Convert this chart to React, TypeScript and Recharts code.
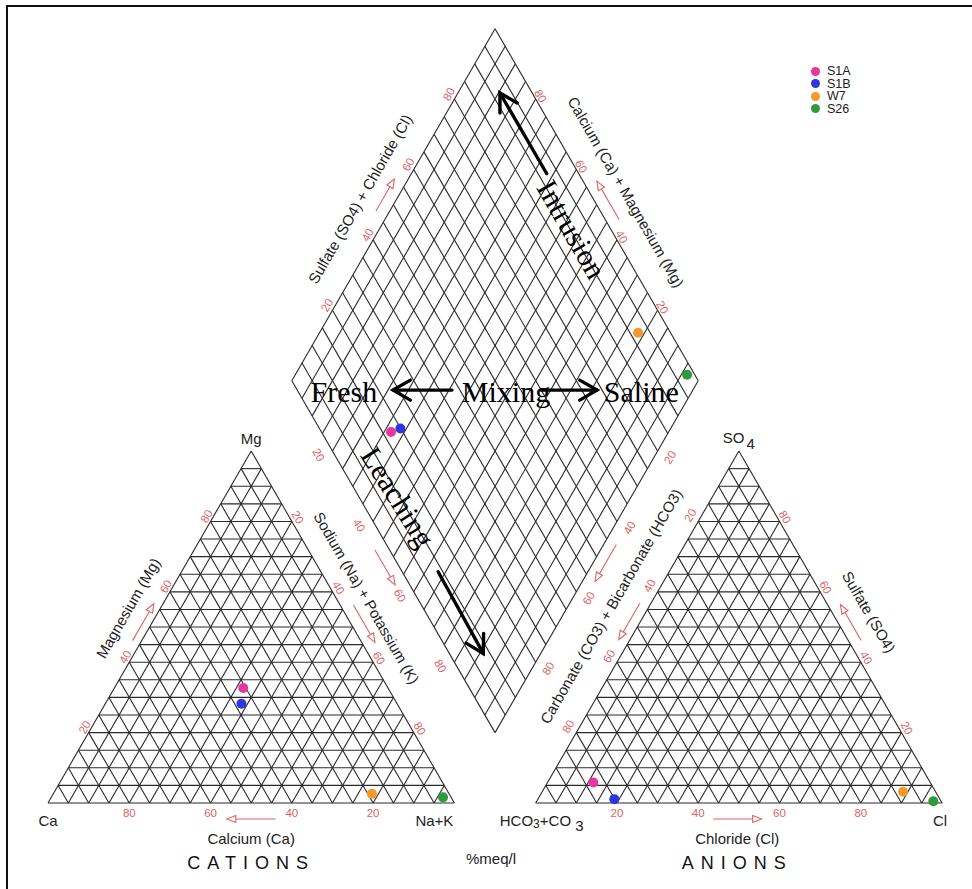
import React from 'react';
import { ScatterChart, Scatter, XAxis, YAxis, ReferenceLine } from 'recharts';

// samples, % meq/l
const samples = ['S1A', 'S1B', 'W7', 'S26'];
const sampleColors = ['#e8379b', '#2f35e0', '#f39a2e', '#2f9a3c'];
const calcium = [35.6, 38.3, 19.0, 2.0];
const magnesium = [32.7, 28.2, 2.6, 1.6];
const sodiumPotassium = [31.7, 33.5, 78.4, 96.4];
const bicarbonate = [82.9, 80.1, 8.0, 1.9];
const sulfate = [5.8, 1.1, 3.2, 0.5];
const chloride = [11.3, 18.8, 88.8, 97.6];
const tickValues = [20, 40, 60, 80];

const W = 972;
const H = 889;
const SCALE = 4.064; // px per unit (triangle side = 100)
const ORIGIN_PX = 48;
const ORIGIN_PY = 803;
const X_DOMAIN = [-ORIGIN_PX / SCALE, (W - ORIGIN_PX) / SCALE];
const Y_DOMAIN = [-(H - ORIGIN_PY) / SCALE, ORIGIN_PY / SCALE];

const SQ = Math.sqrt(3) / 2;
const GAP = 20;
const RED = '#e06262';
const SANS = '"Liberation Sans", Arial, sans-serif';
const SERIF = '"Liberation Serif", "Times New Roman", serif';

const cationXY = (ca: number, mg: number, nak: number) => {
  const s = ca + mg + nak;
  return { x: (100 * (nak + mg / 2)) / s, y: (100 * mg * SQ) / s };
};
const anionXY = (hco3: number, so4: number, cl: number) => {
  const s = hco3 + so4 + cl;
  return { x: 100 + GAP + (100 * (cl + so4 / 2)) / s, y: (100 * so4 * SQ) / s };
};
// a = Na+K %, b = SO4+Cl %
const diamondXY = (a: number, b: number) => ({
  x: 110 + b / 2 - (100 - a) / 2,
  y: GAP * SQ + b * SQ + (100 - a) * SQ,
});

// grid segments
const gridSegments: { x: number; y: number }[][] = [];
for (let v = 0; v < 100; v += 5) {
  gridSegments.push([cationXY(100 - v, v, 0), cationXY(0, v, 100 - v)]);
  gridSegments.push([cationXY(v, 100 - v, 0), cationXY(v, 0, 100 - v)]);
  gridSegments.push([cationXY(100 - v, 0, v), cationXY(0, 100 - v, v)]);
  gridSegments.push([anionXY(100 - v, v, 0), anionXY(0, v, 100 - v)]);
  gridSegments.push([anionXY(v, 100 - v, 0), anionXY(v, 0, 100 - v)]);
  gridSegments.push([anionXY(100 - v, 0, v), anionXY(0, 100 - v, v)]);
}
for (let v = 0; v <= 100; v += 5) {
  gridSegments.push([diamondXY(0, v), diamondXY(100, v)]);
  gridSegments.push([diamondXY(v, 0), diamondXY(v, 100)]);
}

const sampleSeries = samples.map((name, i) => {
  const nak = sodiumPotassium[i] / (calcium[i] + magnesium[i] + sodiumPotassium[i]) * 100;
  const ab = (sulfate[i] + chloride[i]) / (bicarbonate[i] + sulfate[i] + chloride[i]) * 100;
  return {
    name,
    color: sampleColors[i],
    data: [
      cationXY(calcium[i], magnesium[i], sodiumPotassium[i]),
      anionXY(bicarbonate[i], sulfate[i], chloride[i]),
      diamondXY(nak, ab),
    ],
  };
});

type Note = any;
const notes: Note[] = [];
const label = (p: { x: number; y: number }, text: any, o: Partial<Note> = {}) =>
  notes.push({ kind: 'text', x: p.x, y: p.y, text, dx: 0, dy: 0, rot: 0, size: 15, color: '#222', font: SANS, anchor: 'middle', ...o });
const redArrow = (p: { x: number; y: number }, q: { x: number; y: number }, dx: number, dy: number) =>
  notes.push({ kind: 'redArrow', x: p.x, y: p.y, x2: q.x, y2: q.y, dx, dy });
const bigArrow = (p: { x: number; y: number }, q: { x: number; y: number }) =>
  notes.push({ kind: 'bigArrow', x: p.x, y: p.y, x2: q.x, y2: q.y, dx: 0, dy: 0 });

// tick labels
const tick = { size: 11.5, color: RED };
tickValues.forEach((t) => {
  label(cationXY(t, 0, 100 - t), t, { ...tick, dy: 9.5 });
  label(cationXY(100 - t, t, 0), t, { ...tick, dx: -4, dy: -5.3, rot: -60 });
  label(cationXY(0, 100 - t, t), t, { ...tick, dx: 5.9, dy: -4.1, rot: 60 });
  label(diamondXY(0, t), t, { ...tick, dx: -5.5, dy: -5, rot: -60 });
  label(diamondXY(100 - t, 100), t, { ...tick, dx: 4.8, dy: -3, rot: 60 });
  label(diamondXY(t, 0), t, { ...tick, dx: -13.9, dy: 3.8, rot: 60 });
  label(diamondXY(100, 100 - t), t, { ...tick, dx: 12.5, dy: 6.3, rot: -60 });
  label(anionXY(t, 100 - t, 0), t, { ...tick, dx: -8, dy: -6.1, rot: -60 });
  label(anionXY(0, t, 100 - t), t, { ...tick, dx: 5.4, dy: -4.5, rot: 60 });
  label(anionXY(100 - t, 0, t), t, { ...tick, dy: 9.7 });
});

// axis titles
label(cationXY(50, 0, 50), 'Calcium (Ca)', { dy: 35 });
label(cationXY(50, 0, 50), 'CATIONS', { dy: 60, size: 18, spacing: 7, color: '#111' });
label(cationXY(48.6, 51.4, 0), 'Magnesium (Mg)', { dx: -24.4, dy: -14.1, rot: -60 });
label(cationXY(0, 54.5, 45.5), 'Sodium (Na) + Potassium (K)', { dx: 23, dy: -13.2, rot: 60 });
label(diamondXY(0, 47.1), 'Sulfate (SO4) + Chloride (Cl)', { dx: -27.5, dy: -15.9, rot: -60 });
label(diamondXY(50.9, 100), 'Calcium (Ca) + Magnesium (Mg)', { dx: 27.5, dy: -15.9, rot: 60 });
label(anionXY(48.8, 51.2, 0), 'Carbonate (CO3) + Bicarbonate (HCO3)', { dx: -28.8, dy: -16.6, rot: -60 });
label(anionXY(0, 49.7, 50.3), 'Sulfate (SO4)', { dx: 27.9, dy: -16.1, rot: 60 });
label(anionXY(50.4, 0, 49.6), 'Chloride (Cl)', { dy: 35 });
label(anionXY(50.4, 0, 49.6), 'ANIONS', { dy: 60, size: 18, spacing: 7, color: '#111' });

// corners
label(cationXY(100, 0, 0), 'Ca', { dy: 17 });
label(cationXY(0, 0, 100), 'Na+K', { dx: -20, dy: 17 });
label(cationXY(0, 100, 0), 'Mg', { dy: -13 });
label(anionXY(100, 0, 0), 'HCO3+CO3', { dx: 6, dy: 17, chem: 'hco3' });
label(anionXY(0, 0, 100), 'Cl', { dx: -2, dy: 17 });
label(anionXY(0, 100, 0), 'SO4', { dy: -14, chem: 'so4' });
label({ x: 110, y: 0 }, '%meq/l', { dx: -4, dy: 55 });

// red direction arrows
redArrow(cationXY(44, 0, 56), cationXY(56, 0, 44), 0, 16);
redArrow(cationXY(55, 45, 0), cationXY(44.5, 55.5, 0), -6.9, -4);
redArrow(cationXY(0, 54.6, 45.4), cationXY(0, 44, 56), 10, -5.75);
redArrow(diamondXY(46.3, 0), diamondXY(56.2, 0), -11, 6.35);
redArrow(diamondXY(0, 46.5), diamondXY(0, 55.6), -10.4, -6);
redArrow(diamondXY(56, 100), diamondXY(45, 100), 10.4, -6);
redArrow(diamondXY(100, 55), diamondXY(100, 44.5), 9.5, 5.5);
redArrow(anionXY(44.6, 55.4, 0), anionXY(55, 45, 0), -8.4, -4.85);
redArrow(anionXY(0, 44.6, 55.4), anionXY(0, 54.8, 45.2), 9.7, -5.6);
redArrow(anionXY(56.3, 0, 43.7), anionXY(44.4, 0, 55.6), 0, 16);

// hydrochemical process annotations
const big = { size: 30, color: '#000', font: SERIF };
label({ x: 72.8, y: 98.7 }, 'Fresh', { ...big, baseline: 'alphabetic' });
label({ x: 112.7, y: 98.7 }, 'Mixing', { ...big, baseline: 'alphabetic' });
label({ x: 146.0, y: 98.7 }, 'Saline', { ...big, baseline: 'alphabetic' });
label({ x: 128.9, y: 141.2 }, 'Intrusion', { ...big, rot: 60 });
label({ x: 86.1, y: 75.3 }, 'Leaching', { ...big, rot: 58 });
bigArrow({ x: 99.4, y: 101.6 }, { x: 84.9, y: 101.6 });
bigArrow({ x: 121.3, y: 101.6 }, { x: 135.1, y: 101.6 });
bigArrow({ x: 122.7, y: 154.9 }, { x: 111.2, y: 174.7 });
bigArrow({ x: 96.0, y: 56.9 }, { x: 107.1, y: 36.8 });

const renderNote = (props: any) => {
  const { cx, cy, payload: n } = props;
  if (cx == null || !n) return <g />;
  const sx = cx + n.dx;
  const sy = cy + n.dy;
  if (n.kind === 'text') {
    const common = {
      x: sx,
      y: sy,
      textAnchor: n.anchor,
      dominantBaseline: n.baseline || 'central',
      fontSize: n.size,
      fill: n.color,
      fontFamily: n.font,
      letterSpacing: n.spacing,
      transform: n.rot ? `rotate(${n.rot} ${sx} ${sy})` : undefined,
    };
    if (n.chem === 'hco3')
      return (
        <text {...common}>
          HCO<tspan dy={4} fontSize={12}>3</tspan>
          <tspan dy={-4}>+CO </tspan>
          <tspan dy={5}>3</tspan>
        </text>
      );
    if (n.chem === 'so4')
      return (
        <text {...common}>
          SO<tspan dy={6} dx={2}>4</tspan>
        </text>
      );
    return <text {...common}>{n.text}</text>;
  }
  const ex = sx + (n.x2 - n.x) * SCALE;
  const ey = sy - (n.y2 - n.y) * SCALE;
  const len = Math.hypot(ex - sx, ey - sy);
  const ux = (ex - sx) / len;
  const uy = (ey - sy) / len;
  if (n.kind === 'redArrow') {
    const L = 9;
    const w = 3.5;
    const bx = ex - ux * L;
    const by = ey - uy * L;
    return (
      <g stroke={RED} strokeWidth={1.1} fill="#fff">
        <line x1={sx} y1={sy} x2={bx} y2={by} />
        <polygon points={`${ex},${ey} ${bx - uy * w},${by + ux * w} ${bx + uy * w},${by - ux * w}`} />
      </g>
    );
  }
  const L = 20;
  const a = (30 * Math.PI) / 180;
  const rot = (ang: number) => ({
    x: ex - L * (ux * Math.cos(ang) - uy * Math.sin(ang)),
    y: ey - L * (uy * Math.cos(ang) + ux * Math.sin(ang)),
  });
  const h1 = rot(a);
  const h2 = rot(-a);
  return (
    <g stroke="#000" strokeWidth={3.4} fill="none" strokeLinecap="round">
      <line x1={sx} y1={sy} x2={ex} y2={ey} />
      <polyline points={`${h1.x},${h1.y} ${ex},${ey} ${h2.x},${h2.y}`} />
    </g>
  );
};

export default function App() {
  return (
    <div style={{ position: 'absolute', left: 0, top: 0, width: W, height: H, background: '#fff', overflow: 'hidden' }}>
      <div
        style={{
          position: 'absolute',
          left: 6,
          top: 5,
          width: W,
          height: H,
          borderTop: '2px solid #111',
          borderLeft: '2px solid #111',
        }}
      />
      <div style={{ position: 'absolute', left: 0, top: 0 }}>
        <ScatterChart width={W} height={H} margin={{ top: 0, right: 0, bottom: 0, left: 0 }}>
          <XAxis type="number" dataKey="x" domain={X_DOMAIN} hide allowDataOverflow />
          <YAxis type="number" dataKey="y" domain={Y_DOMAIN} hide allowDataOverflow />
          {gridSegments.map((s, i) => (
            <ReferenceLine key={i} segment={s} stroke="#2a2a2a" strokeWidth={1.1} ifOverflow="visible" />
          ))}
          <Scatter data={notes} shape={renderNote} isAnimationActive={false} />
          {sampleSeries.map((s) => (
            <Scatter
              key={s.name}
              name={s.name}
              data={s.data}
              fill={s.color}
              isAnimationActive={false}
              shape={(p: any) => <circle cx={p.cx} cy={p.cy} r={5} fill={s.color} />}
            />
          ))}
        </ScatterChart>
      </div>
      <div style={{ position: 'absolute', left: 811, top: 65, fontFamily: SANS, fontSize: 12.5, color: '#222' }}>
        {samples.map((name, i) => (
          <div key={name} style={{ display: 'flex', alignItems: 'center', height: 12.5, lineHeight: '12.5px' }}>
            <span
              style={{
                display: 'inline-block',
                width: 9,
                height: 9,
                borderRadius: '50%',
                background: sampleColors[i],
                marginRight: 7,
              }}
            />
            {name}
          </div>
        ))}
      </div>
    </div>
  );
}
